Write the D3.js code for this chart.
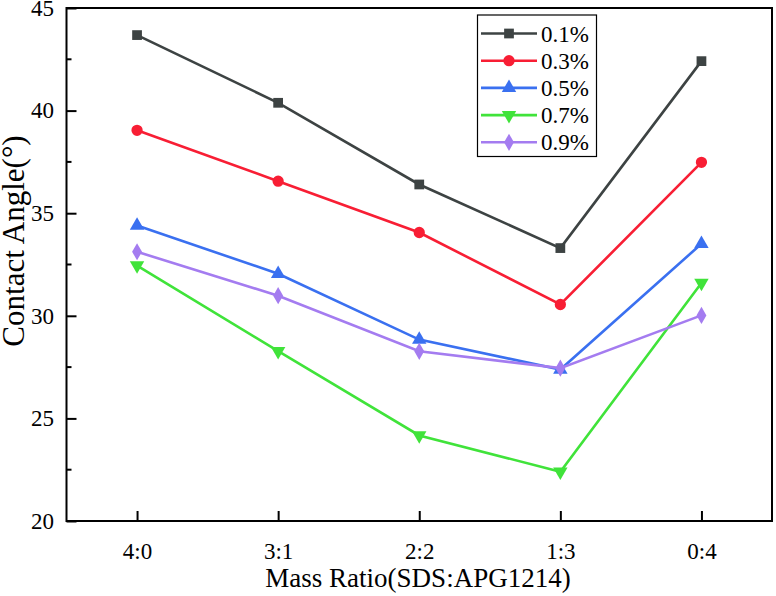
<!DOCTYPE html>
<html>
<head>
<meta charset="utf-8">
<script src="https://cdn.jsdelivr.net/npm/d3@7/dist/d3.min.js"></script>
<style>
  html, body { margin: 0; padding: 0; background: #fff; }
  svg { display: block; font-family: "Liberation Serif", "Times New Roman", serif; }
</style>
</head>
<body>
<svg id="chart" width="776" height="596"></svg>
<script>
const categories = ["4:0", "3:1", "2:2", "1:3", "0:4"];
const seriesNames = ["0.1%", "0.3%", "0.5%", "0.7%", "0.9%"];
const s01 = [43.68, 40.38, 36.40, 33.30, 42.41];
const s03 = [39.04, 36.56, 34.06, 30.55, 37.48];
const s05 = [34.40, 32.05, 28.84, 27.38, 33.51];
const s07 = [32.45, 28.28, 24.17, 22.40, 31.60];
const s09 = [33.12, 30.98, 28.27, 27.45, 30.02];
const yTicks = [20, 25, 30, 35, 40, 45];
const colors = ["#3d4343", "#f81e34", "#3a70f0", "#40e33a", "#a47cf0"];
const symbols = [d3.symbolSquare, d3.symbolCircle, d3.symbolTriangle, "down", d3.symbolDiamond];

const allSeries = [s01, s03, s05, s07, s09];

const svg = d3.select("#chart");
const mLeft = 66.5, mRight = 772, mTop = 8, mBottom = 521;
const FONT = "Liberation Serif, Times New Roman, serif";

const x = d3.scaleLinear().domain([0.5, 5.5]).range([mLeft, mRight]);
const y = d3.scaleLinear().domain([20, 45]).range([mBottom, mTop]);

// frame
svg.append("rect")
  .attr("x", mLeft).attr("y", mTop)
  .attr("width", mRight - mLeft).attr("height", mBottom - mTop)
  .attr("fill", "none").attr("stroke", "#000").attr("stroke-width", 2);

// Y axis
const yAxis = d3.axisLeft(y).tickValues(yTicks).tickSize(-10).tickPadding(12.5).tickFormat(d3.format("d"));
const gy = svg.append("g").attr("transform", `translate(${mLeft},0)`).call(yAxis);
gy.select(".domain").remove();
gy.selectAll(".tick line").attr("stroke", "#000").attr("stroke-width", 2);
gy.selectAll(".tick text").attr("font-size", 23).attr("fill", "#000").attr("font-family", FONT);
// minor ticks
const minor = d3.range(22.5, 45, 5);
svg.append("g").selectAll("line").data(minor).join("line")
  .attr("x1", mLeft).attr("x2", mLeft + 5)
  .attr("y1", d => y(d)).attr("y2", d => y(d))
  .attr("stroke", "#000").attr("stroke-width", 2);

// X axis
const xAxis = d3.axisBottom(x).tickValues([1, 2, 3, 4, 5])
  .tickFormat((d, i) => categories[i]).tickSize(-10).tickPadding(22);
const gx = svg.append("g").attr("transform", `translate(0,${mBottom})`).call(xAxis);
gx.select(".domain").remove();
gx.selectAll(".tick line").attr("stroke", "#000").attr("stroke-width", 2);
gx.selectAll(".tick text").attr("font-size", 23).attr("fill", "#000").attr("font-family", FONT);

// axis titles
svg.append("text")
  .attr("x", 418).attr("y", 587)
  .attr("text-anchor", "middle").attr("font-size", 27).attr("fill", "#000")
  .text("Mass Ratio(SDS:APG1214)");
svg.append("text")
  .attr("transform", "translate(24,241) rotate(-90)")
  .attr("text-anchor", "middle").attr("font-size", 31).attr("fill", "#000")
  .text("Contact Angle(°)");

function symbolPath(sym, size) {
  if (sym === "down") {
    return d3.symbol().type(d3.symbolTriangle).size(size)();
  }
  return d3.symbol().type(sym).size(size)();
}
function symbolSize(sym) {
  if (sym === d3.symbolSquare) return 95;
  if (sym === d3.symbolCircle) return 100;
  if (sym === d3.symbolDiamond) return 85;
  return 90;
}

const line = d3.line().x((d, i) => x(i + 1)).y(d => y(d));

allSeries.forEach((vals, si) => {
  const g = svg.append("g");
  g.append("path").datum(vals)
    .attr("d", line).attr("fill", "none")
    .attr("stroke", colors[si]).attr("stroke-width", 2.6);
  const sym = symbols[si];
  g.selectAll("path.m").data(vals).join("path").attr("class", "m")
    .attr("d", symbolPath(sym, symbolSize(sym)))
    .attr("transform", (d, i) => `translate(${x(i + 1)},${y(d)})` + (sym === "down" ? " rotate(180)" : ""))
    .attr("fill", colors[si]);
});

// legend
const lg = svg.append("g");
lg.append("rect").attr("x", 477.5).attr("y", 15).attr("width", 119).attr("height", 141.5)
  .attr("fill", "#fff").attr("stroke", "#000").attr("stroke-width", 1.2);
seriesNames.forEach((name, si) => {
  const yy = 33.5 + si * 27.2;
  lg.append("line").attr("x1", 481).attr("x2", 537).attr("y1", yy).attr("y2", yy)
    .attr("stroke", colors[si]).attr("stroke-width", 2.6);
  const sym = symbols[si];
  lg.append("path").attr("d", symbolPath(sym, symbolSize(sym)))
    .attr("transform", `translate(509,${yy})` + (sym === "down" ? " rotate(180)" : ""))
    .attr("fill", colors[si]);
  lg.append("text").attr("x", 541).attr("y", yy + 8).attr("font-size", 23).attr("fill", "#000")
    .text(name);
});
</script>
</body>
</html>
